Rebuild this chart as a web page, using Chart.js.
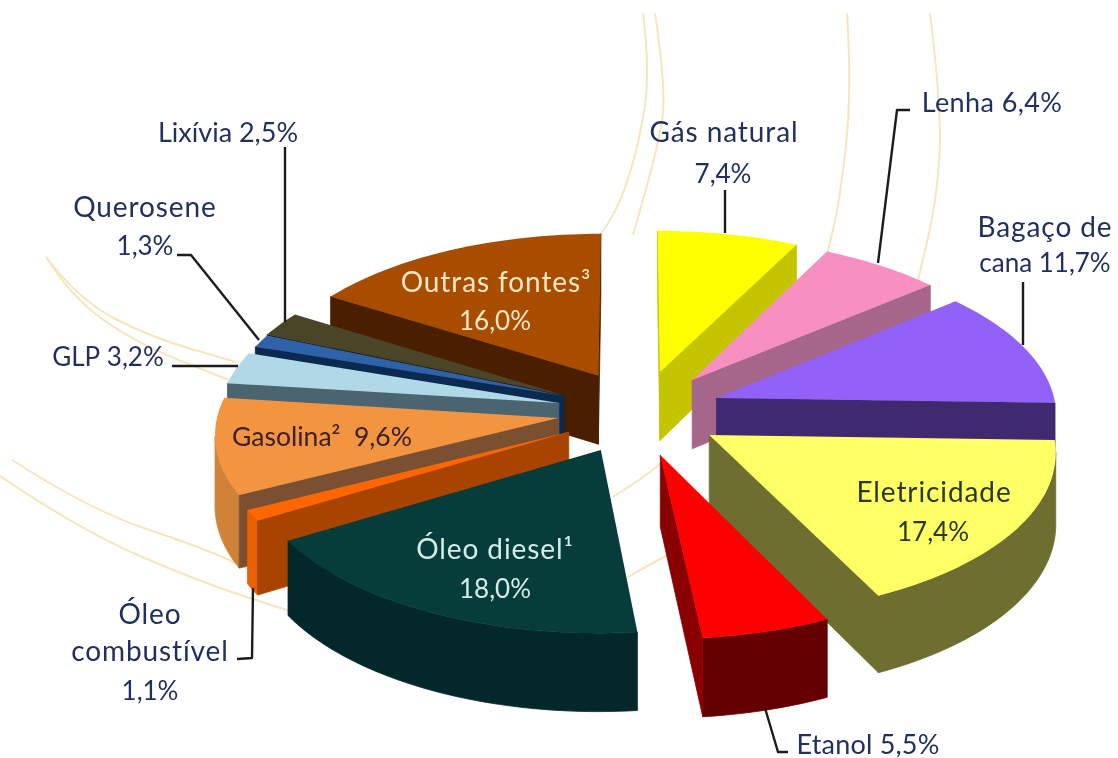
<!DOCTYPE html>
<html>
<head>
<meta charset="utf-8">
<script src="https://cdn.jsdelivr.net/npm/chart.js@4"></script>
<style>
  body { margin: 0; background: #fff; }
  canvas { display: block; }
</style>
</head>
<body>
<canvas id="energyChart" width="1118" height="758"></canvas>
<script>
const categories = ['Gás natural', 'Lenha', 'Bagaço de cana', 'Eletricidade', 'Etanol', 'Óleo diesel',
  'Óleo combustível', 'Gasolina', 'GLP', 'Querosene', 'Lixívia', 'Outras fontes'];
const shares = [7.4, 6.4, 11.7, 17.4, 5.5, 18.0, 1.1, 9.6, 3.2, 1.3, 2.5, 16.0];

const topColors = ['#ffff00', '#f78fc0', '#9161f8', '#ffff66', '#ff0000', '#063d3b',
  '#ff6600', '#f29440', '#b0d8e6', '#2f62a8', '#4a4526', '#a84c00'];
const wallColors = ['#c4c400', '#a5668a', '#3f2a70', '#6e6e30', '#650000', '#04282a',
  '#e86000', '#cf8238', '#4a6470', '#0a2a50', '#1c1c10', '#4a1f00'];
const cutColors = ['#c4c400', '#a5668a', '#3f2a70', '#6e6e30', '#8a0000', '#04282a',
  '#a84400', '#7a5030', '#4a6470', '#0a2a50', '#1c1c10', '#4a1f00'];

// how far each slice is pulled out, in pie radii
const pullX = [0.09, 0.186, 0.256, 0.23, 0.087, -0.084, -0.178, -0.21, -0.21, -0.195, -0.196, -0.095];
const pullY = [0.249, 0.197, 0.082, -0.148, -0.269, -0.239, -0.13, -0.044, 0.05, 0.094, 0.1, 0.226];

const view = { stretchX: 0.98, stretchY: 0.461, perspective: 0.087, height: 70 };

const navy = '#22305e';
const word = [28, 0.9];
const num = [26, 0];
const texts = [
  ['Lixívia 2,5%', 228, 133, navy, [27, 0]], ['Querosene', 145, 208, navy, word], ['1,3%', 145, 247, navy, num],
  ['GLP 3,2%', 108, 358, navy, num], ['Gás natural', 724, 133, navy, word], ['7,4%', 723, 175, navy, num],
  ['Lenha 6,4%', 992, 103, navy, [27, 0.4]], ['Bagaço de', 1045, 228, navy, word], ['cana 11,7%', 1045, 264, navy, num],
  ['Outras fontes³', 496, 283, '#fbe8c8', word], ['16,0%', 495, 322, '#fbe8c8', num],
  ['Gasolina²  9,6%', 322, 437, '#3a2030', [26.5, 0]], ['Óleo diesel¹', 495, 550, '#d4ece8', word], ['18,0%', 495, 590, '#d4ece8', num],
  ['Eletricidade', 934, 493, '#2a3a20', word], ['17,4%', 933, 533, '#2a3a20', num], ['Etanol 5,5%', 868, 745, navy, [27, 0.2]],
  ['Óleo', 150, 615, navy, word], ['combustível', 150, 652, navy, word], ['1,1%', 150, 692, navy, num]
];

const leaders = [
  [[285, 147], [285, 322]],
  [[177, 255], [191, 255], [259, 340]],
  [[172, 366], [238, 366]],
  [[725, 190], [725, 233]],
  [[910, 110], [897, 110], [878, 263]],
  [[1023, 282], [1023, 345]],
  [[765, 708], [778, 752], [788, 752]],
  [[253, 588], [252, 658], [237, 659]]
];

// pale swooshes behind the pie
const swooshes = [
  [[643, 13], [650, 70], [640, 140], [620, 205], [597, 240]],
  [[655, 13], [667, 93], [657, 150], [633, 235]],
  [[847, 13], [852, 90], [840, 200], [827, 255]],
  [[930, 13], [942, 110], [937, 200], [918, 280]],
  [[46, 257], [79, 300], [150, 337], [236, 362]],
  [[46, 257], [71, 297], [136, 343], [229, 380]],
  [[12, 460], [90, 510], [200, 547], [247, 568]],
  [[0, 476], [80, 530], [200, 582], [293, 612]],
  [[613, 497], [640, 480], [665, 460]],
  [[627, 578], [645, 567], [668, 555]]
];

function smoothLine(ctx, pts) {
  ctx.beginPath();
  ctx.moveTo(pts[0][0], pts[0][1]);
  for (let i = 1; i < pts.length - 1; i++) {
    const mx = (pts[i][0] + pts[i + 1][0]) / 2;
    const my = (pts[i][1] + pts[i + 1][1]) / 2;
    ctx.quadraticCurveTo(pts[i][0], pts[i][1], mx, my);
  }
  const last = pts[pts.length - 1];
  ctx.lineTo(last[0], last[1]);
  ctx.stroke();
}

const backdrop = {
  id: 'backdrop',
  beforeDatasetsDraw(chart) {
    const ctx = chart.ctx;
    ctx.save();
    ctx.strokeStyle = '#f6e6bd';
    ctx.lineWidth = 2;
    swooshes.forEach(s => smoothLine(ctx, s));
    ctx.restore();
  }
};

// the arcs keep the angles chart.js worked out, only the projection is ours
const pie3d = {
  id: 'pie3d',
  beforeDatasetDraw(chart, args) {
    const ctx = chart.ctx;
    const arcs = args.meta.data;
    const mid = a => (arcs[a].startAngle + arcs[a].endAngle) / 2 + Math.PI / 2;
    const order = arcs.map((a, i) => i).sort((p, q) => Math.cos(mid(q)) - Math.cos(mid(p)));

    order.forEach(i => {
      const arc = arcs[i];
      const A = arc.outerRadius * view.stretchX;
      const B = arc.outerRadius * view.stretchY;
      const project = (P, z) => {
        const w = 1 + view.perspective * P[1];
        return { x: arc.x + A * P[0] / w, y: arc.y - B * P[1] / w + z / w };
      };
      const rim = [];
      const steps = Math.max(4, Math.ceil((arc.endAngle - arc.startAngle) * 40));
      for (let s = 0; s <= steps; s++) {
        const t = arc.startAngle + (arc.endAngle - arc.startAngle) * s / steps + Math.PI / 2;
        rim.push([pullX[i] + Math.sin(t), pullY[i] + Math.cos(t)]);
      }
      const tip = [pullX[i], pullY[i]];

      // extrude a run of edges downwards as one polygon
      const wall = (run, color) => {
        if (run.length < 2) return;
        ctx.fillStyle = color;
        ctx.strokeStyle = color;
        ctx.lineWidth = 0.8;
        ctx.beginPath();
        run.forEach((P, n) => {
          const p = project(P, 0);
          n ? ctx.lineTo(p.x, p.y) : ctx.moveTo(p.x, p.y);
        });
        run.slice().reverse().forEach(P => {
          const p = project(P, view.height);
          ctx.lineTo(p.x, p.y);
        });
        ctx.closePath();
        ctx.fill();
        ctx.stroke();
      };
      const facesViewer = (P, Q) => project(Q, 0).x < project(P, 0).x;

      ctx.save();
      let run = [];
      for (let s = 0; s < rim.length - 1; s++) {
        if (facesViewer(rim[s], rim[s + 1])) {
          if (!run.length) run.push(rim[s]);
          run.push(rim[s + 1]);
        } else {
          wall(run, wallColors[i]);
          run = [];
        }
      }
      wall(run, wallColors[i]);
      if (facesViewer(tip, rim[0])) wall([tip, rim[0]], cutColors[i]);
      if (facesViewer(rim[rim.length - 1], tip)) wall([rim[rim.length - 1], tip], cutColors[i]);

      ctx.fillStyle = topColors[i];
      ctx.beginPath();
      const t0 = project(tip, 0);
      ctx.moveTo(t0.x, t0.y);
      rim.forEach(P => {
        const p = project(P, 0);
        ctx.lineTo(p.x, p.y);
      });
      ctx.closePath();
      ctx.fill();
      ctx.restore();
    });
    return false;
  }
};

const annotations = {
  id: 'annotations',
  afterDraw(chart) {
    const ctx = chart.ctx;
    ctx.save();
    ctx.strokeStyle = '#1c1c1c';
    ctx.lineWidth = 2.4;
    ctx.lineJoin = 'round';
    leaders.forEach(pts => {
      ctx.beginPath();
      pts.forEach((p, i) => (i ? ctx.lineTo(p[0], p[1]) : ctx.moveTo(p[0], p[1])));
      ctx.stroke();
    });
    ctx.textAlign = 'center';
    ctx.textBaseline = 'middle';
    texts.forEach(([label, x, y, color, style]) => {
      ctx.font = style[0] + 'px Lato';
      ctx.letterSpacing = style[1] + 'px';
      ctx.fillStyle = color;
      ctx.fillText(label, x, y);
    });
    ctx.restore();
  }
};

new Chart(document.getElementById('energyChart').getContext('2d'), {
  type: 'pie',
  data: {
    labels: categories,
    datasets: [{ data: shares, backgroundColor: topColors, borderWidth: 0 }]
  },
  options: {
    responsive: false,
    animation: false,
    layout: { padding: { left: 142, top: 64 } },
    plugins: { legend: { display: false }, tooltip: { enabled: false } }
  },
  plugins: [backdrop, pie3d, annotations]
});
</script>
</body>
</html>
